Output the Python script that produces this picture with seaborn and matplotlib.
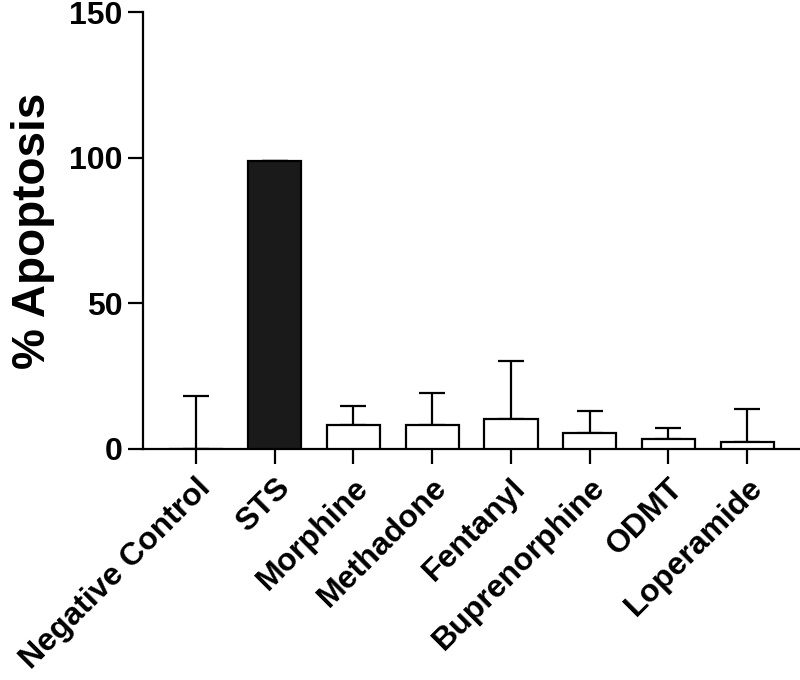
import matplotlib
matplotlib.use("Agg")
import matplotlib.pyplot as plt
import seaborn as sns
import pandas as pd
import numpy as np

# values
groups = ["Negative Control", "STS", "Morphine", "Methadone", "Fentanyl",
          "Buprenorphine", "ODMT", "Loperamide"]
means = [0.0, 99.0, 8.1, 8.1, 10.2, 5.4, 3.6, 2.3]
sd_upper = [18.3, 0.0, 6.7, 11.2, 20.1, 7.5, 3.7, 11.4]
fill_colors = ["white", "#1a1a1a", "white", "white", "white", "white", "white", "white"]
y_ticks = [0, 50, 100, 150]

sns.set_style("ticks")
plt.rcParams["font.family"] = ["Liberation Sans", "DejaVu Sans"]
plt.rcParams["font.weight"] = "bold"
plt.rcParams["text.color"] = "black"
plt.rcParams["axes.labelcolor"] = "black"
plt.rcParams["xtick.color"] = "black"
plt.rcParams["ytick.color"] = "black"

df = pd.DataFrame({"group": groups, "apoptosis": means})

fig = plt.figure(figsize=(8, 6.8), dpi=100)
ax = fig.add_axes([143 / 800, 1 - 449 / 680, (800 - 143) / 800, (449 - 12) / 680])

sns.barplot(data=df, x="group", y="apoptosis", hue="group", palette=fill_colors,
            legend=False, width=0.675, edgecolor="black", linewidth=1.6,
            errorbar=None, ax=ax, zorder=3)

# one-sided (upward) error bars
xpos = np.arange(len(groups))
ax.errorbar(xpos, means, yerr=[np.zeros(len(groups)), sd_upper], fmt="none",
            ecolor="black", elinewidth=1.6, capsize=9.7, capthick=1.6, zorder=2)

ax.set_xlim(-0.673, 7.67)
ax.set_ylim(0, 150)
ax.set_yticks(y_ticks)
ax.set_ylabel("% Apoptosis", fontsize=33, fontweight="bold", labelpad=10)
ax.set_xlabel("")

sns.despine(ax=ax)
for side in ["left", "bottom"]:
    ax.spines[side].set_linewidth(1.6)
    ax.spines[side].set_color("black")

ax.tick_params(axis="both", length=11, width=1.6, color="black", labelcolor="black")
ax.tick_params(axis="y", labelsize=23, pad=4)
ax.tick_params(axis="x", labelsize=23, pad=6)
for lab in ax.get_yticklabels():
    lab.set_fontweight("bold")
for lab in ax.get_xticklabels():
    lab.set_rotation(45)
    lab.set_ha("right")
    lab.set_rotation_mode("anchor")
    lab.set_fontweight("bold")

fig.savefig("out.png", dpi=100)
